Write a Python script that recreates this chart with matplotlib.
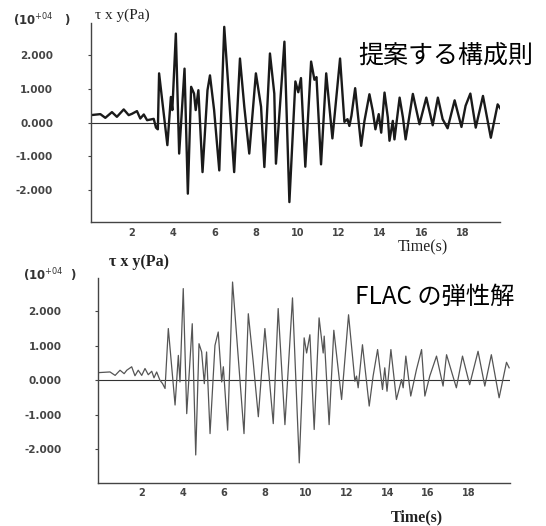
import matplotlib
matplotlib.use("Agg")
import matplotlib.pyplot as plt

# upper record: proposed constitutive law (time s, tau_xy in 10^4 Pa)
t_top = [0.0, 0.47, 0.71, 1.03, 1.27, 1.6, 1.84, 2.0, 2.24, 2.4, 2.57, 2.73, 2.89, 3.05, 3.16, 3.25,
         3.31, 3.71, 3.88, 3.95, 4.12, 4.28, 4.54, 4.7, 4.86, 5.0, 5.08, 5.21, 5.41, 5.65, 5.77, 5.97,
         6.22, 6.46, 6.94, 7.22, 7.43, 7.67, 7.99, 8.24, 8.4, 8.67, 8.88, 8.96, 9.37, 9.61, 9.9, 10.04,
         10.17, 10.38, 10.66, 10.82, 10.92, 11.14, 11.39, 11.69, 12.06, 12.27, 12.42, 12.51, 12.61, 12.79,
         13.08, 13.24, 13.48, 13.64, 13.77, 13.93, 14.05, 14.21, 14.37, 14.45, 14.61, 14.69, 14.94, 15.1,
         15.23, 15.4, 15.58, 15.9, 16.23, 16.54, 16.79, 17.02, 17.26, 17.6, 17.93, 18.13, 18.36, 18.62,
         18.97, 19.35, 19.68, 19.86]
v_top = [0.22, 0.25, 0.14, 0.31, 0.17, 0.39, 0.22, 0.26, 0.34, 0.12, 0.24, 0.07, 0.09, 0.11, -0.15, -0.2,
         1.46, -0.67, 0.76, 0.37, 2.64, -0.92, 1.6, -2.11, 1.06, 0.86, 0.37, 0.96, -1.47, 0.96, 1.4, 0.37,
         -1.42, 2.84, -1.47, 1.9, 0.47, -0.92, 1.46, 0.47, -1.32, 2.05, 0.86, -1.22, 2.4, -2.36, 1.22, 0.9,
         1.32, -1.31, 1.81, 1.27, 1.35, -1.24, 1.46, -0.47, 1.9, 0.02, 0.1, -0.1, 0.2, 1.02,
         -0.69, 0.05, 0.84, 0.35, -0.2, 0.25, -0.3, 0.89, 0.15, -0.54, 0.05, -0.5, 0.74, 0.15,
         -0.5, 0.15, 0.85, -0.05, 0.74, -0.08, 0.74, 0.1, -0.17, 0.66, -0.13, 0.5, 0.86, -0.15,
         0.79, -0.45, 0.54, 0.37]

# lower record: FLAC elastic solution
t_bot = [-0.12, 0.45, 0.7, 0.94, 1.14, 1.27, 1.51, 1.67, 1.83, 2.0, 2.16, 2.32, 2.49, 2.6, 2.73, 2.89,
         3.02, 3.14, 3.3, 3.63, 3.79, 3.87, 4.03, 4.2, 4.47, 4.64, 4.8, 4.93, 5.06, 5.17, 5.34, 5.58,
         5.74, 5.91, 5.99, 6.2, 6.44, 7.0, 7.21, 7.45, 7.7, 8.02, 8.43, 8.67, 9.0, 9.37, 9.7, 9.94,
         10.06, 10.22, 10.43, 10.67, 10.87, 10.92, 11.16, 11.39, 11.77, 12.11, 12.42, 12.5, 12.58, 12.79,
         13.12, 13.31, 13.53, 13.77, 13.88, 13.99, 14.18, 14.45, 14.7, 14.78, 14.91, 15.15, 15.43, 15.68,
         15.84, 16.08, 16.41, 16.73, 16.9, 17.38, 17.68, 18.03, 18.44, 18.77, 19.09, 19.47, 19.83, 19.96]
v_bot = [0.22, 0.24, 0.14, 0.29, 0.19, 0.29, 0.39, 0.13, 0.29, 0.14, 0.34, 0.16, 0.26, 0.07, 0.24, 0.0,
         -0.1, -0.24, 1.5, -0.72, 0.72, -0.05, 2.66, -0.97, 1.64, -2.17, 1.06, 0.82, -0.1, 0.82, -1.55, 1.01,
         1.4, -0.05, 0.39, -1.45, 2.85, -1.55, 1.93, 0.53, -1.06, 1.5, -1.26, 2.08, -1.29, 2.39, -2.4, 1.23,
         0.79, 1.32, -1.43, 1.81, 0.79, 1.28, -1.29, 1.45, -0.56, 1.9, -0.03, 0.12, -0.22, 1.03,
         -0.75, 0.12, 0.89, -0.27, 0.36, -0.32, 0.89, -0.56, 0.02, -0.22, 0.7, -0.46, 0.31, 0.89,
         -0.46, 0.12, 0.7, -0.17, 0.74, -0.22, 0.7, -0.13, 0.84, -0.17, 0.74, -0.51, 0.52, 0.36]

xticks = [2, 4, 6, 8, 10, 12, 14, 16, 18]
yticks = [-2, -1, 0, 1, 2]
ytick_labels = ["-2.000", "-1.000", "0.000", "1.000", "2.000"]

fig = plt.figure(figsize=(5.46, 5.26), dpi=100)

ytick_font = {"family": "DejaVu Sans", "weight": "bold", "size": 7.5}
xtick_font = {"family": "DejaVu Sans", "weight": "bold", "size": 7.0}


def style_axes(ax, xlim, ylim, ypad):
    ax.set_xlim(*xlim)
    ax.set_ylim(*ylim)
    for side in ["top", "right"]:
        ax.spines[side].set_visible(False)
    for side in ["left", "bottom"]:
        ax.spines[side].set_color("#444444")
        ax.spines[side].set_linewidth(1.0)
    ax.axhline(0, color="#333333", lw=0.8, zorder=1)
    ax.set_xticks(xticks)
    ax.set_xticklabels([str(x) for x in xticks], fontdict=xtick_font, color="#444444")
    ax.set_yticks(yticks)
    ax.set_yticklabels(ytick_labels, fontdict=ytick_font, color="#444444")
    ax.tick_params(axis="x", length=0, pad=4)
    ax.tick_params(axis="y", length=2, pad=ypad, color="#444444")


# top panel
ax1 = fig.add_axes([0.166, 0.578, 0.75, 0.378])
ax1.plot(t_top, v_top, color="#1a1a1a", lw=1.7, zorder=2)
style_axes(ax1, (0, 19.8), (-2.95, 2.95), 25)

# bottom panel
ax2 = fig.add_axes([0.179, 0.082, 0.755, 0.389])
ax2.plot(t_bot, v_bot, color="#555555", lw=0.9, zorder=2)
style_axes(ax2, (-0.15, 20.0), (-2.98, 2.96), 24)

# labels
fig.text(0.024, 0.962, "(10$^{+04}$   )", fontsize=8.5, weight="bold", color="#333333",
         family="DejaVu Sans", va="center")
fig.text(0.174, 0.971, "τ x y(Pa)", fontsize=11, family="Liberation Serif", color="#222222",
         va="center")
fig.text(0.775, 0.530, "Time(s)", fontsize=11.5, family="Liberation Serif", color="#222222",
         ha="center", va="center")

fig.text(0.042, 0.477, "(10$^{+04}$  )", fontsize=8.5, weight="bold", color="#333333",
         family="DejaVu Sans", va="center")
fig.text(0.2, 0.502, "τ x y(Pa)", fontsize=11.5, family="Liberation Serif", weight="bold",
         color="#222222", va="center")
fig.text(0.764, 0.017, "Time(s)", fontsize=11.5, family="Liberation Serif", weight="bold",
         color="#222222", ha="center", va="center")

jp = ["Noto Sans CJK JP", "DejaVu Sans"]
fig.text(0.656, 0.895, "提案する構成則", fontsize=18, family=jp, color="black", va="center")
fig.text(0.650, 0.435, "FLAC の弾性解", fontsize=17.5, family=jp, color="black", va="center")

fig.savefig("out.png", dpi=100)
